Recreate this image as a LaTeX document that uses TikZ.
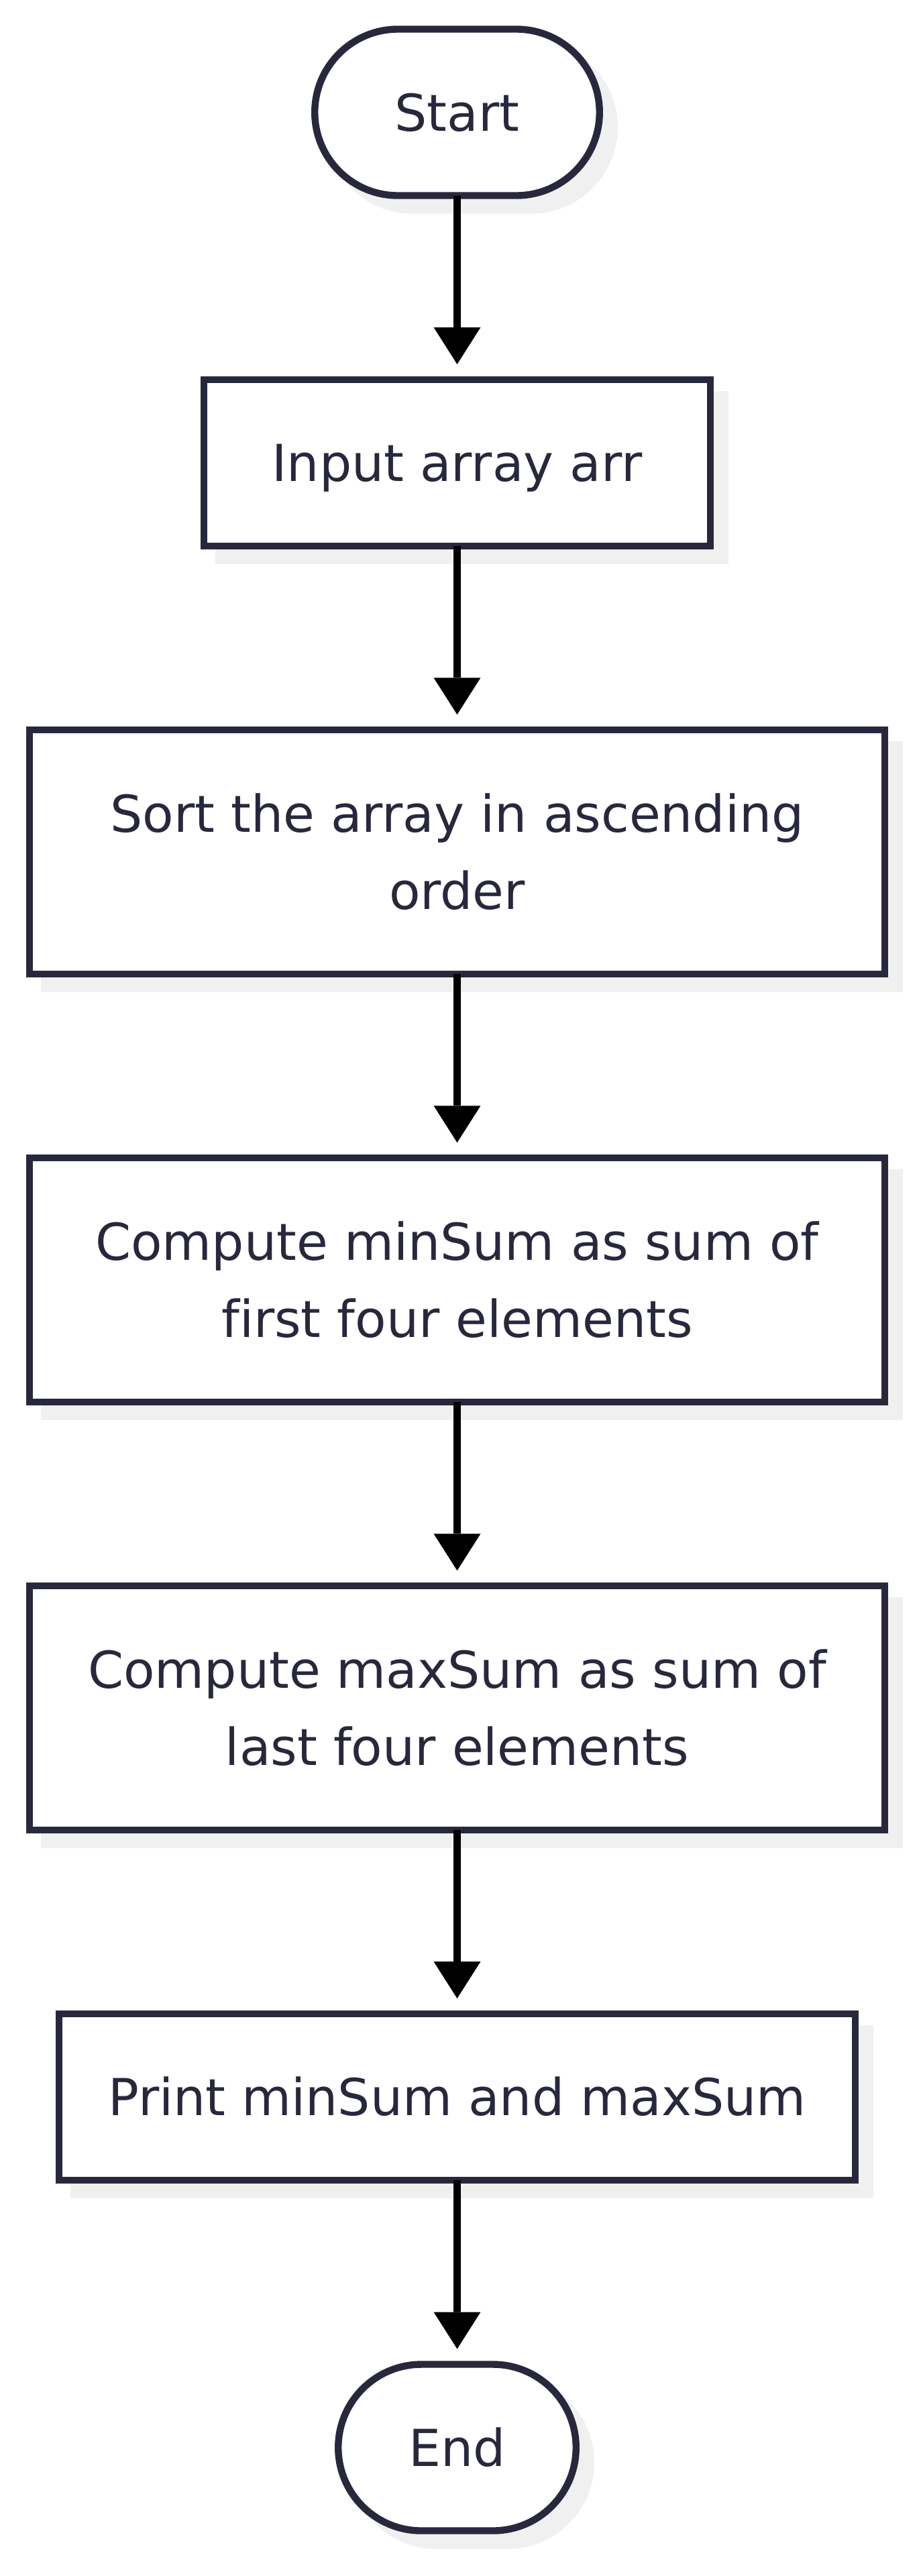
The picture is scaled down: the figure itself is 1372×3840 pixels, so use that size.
\documentclass[tikz,border=0pt]{standalone}
\usepackage{fontspec}
\setmainfont{DejaVu Sans}[Ligatures=NoCommon]
\usetikzlibrary{arrows.meta,shapes.misc}
\definecolor{ink}{RGB}{40,40,61}
\definecolor{shade}{RGB}{240,240,240}
\tikzset{
  base/.style={draw=ink, line width=5.2pt, fill=white, text=ink,
    font=\fontsize{38pt}{57.5pt}\selectfont, inner sep=0pt, outer sep=0pt, align=center,
    preaction={draw=shade, fill=shade, transform canvas={xshift=11pt,yshift=-11pt}}},
  onel/.style={text height=27.7pt, text depth=0pt},
  twol/.style={text height=85.2pt, text depth=0pt},
  proc/.style={base, rectangle, minimum height=124pt},
  proc2/.style={base, rectangle, minimum height=181.75pt, minimum width=637.25pt, twol},
  term/.style={base, rounded rectangle, minimum height=124pt, onel},
  flow/.style={draw=black, line width=5.3pt, -{Triangle[width=35pt,length=27.5pt,line width=0pt]}, shorten >=11.5pt},
}
\begin{document}
\begin{tikzpicture}[x=0.5pt, y=-0.5pt]
\path[use as bounding box] (0,0) rectangle (1372,3840);
\node[term, minimum width=212.25pt] (start) at (681.5,167.5) {Start};
\node[proc, minimum width=377.75pt, onel] (input) at (681.5,690) {Input array arr};
\node[proc2] (sort) at (681.5,1270) {Sort the array in ascending\\order};
\node[proc2] (minsum) at (681.5,1908) {Compute minSum as sum of\\first four elements};
\node[proc2] (maxsum) at (681.5,2546) {Compute maxSum as sum of\\last four elements};
\node[proc, minimum width=593.75pt, onel] (print) at (681.5,3126) {Print minSum and maxSum};
\node[term, minimum width=177.25pt] (stop) at (681.5,3648.5) {End};
\draw[flow] (start) -- (input);
\draw[flow] (input) -- (sort);
\draw[flow] (sort) -- (minsum);
\draw[flow] (minsum) -- (maxsum);
\draw[flow] (maxsum) -- (print);
\draw[flow] (print) -- (stop);
\end{tikzpicture}
\end{document}
